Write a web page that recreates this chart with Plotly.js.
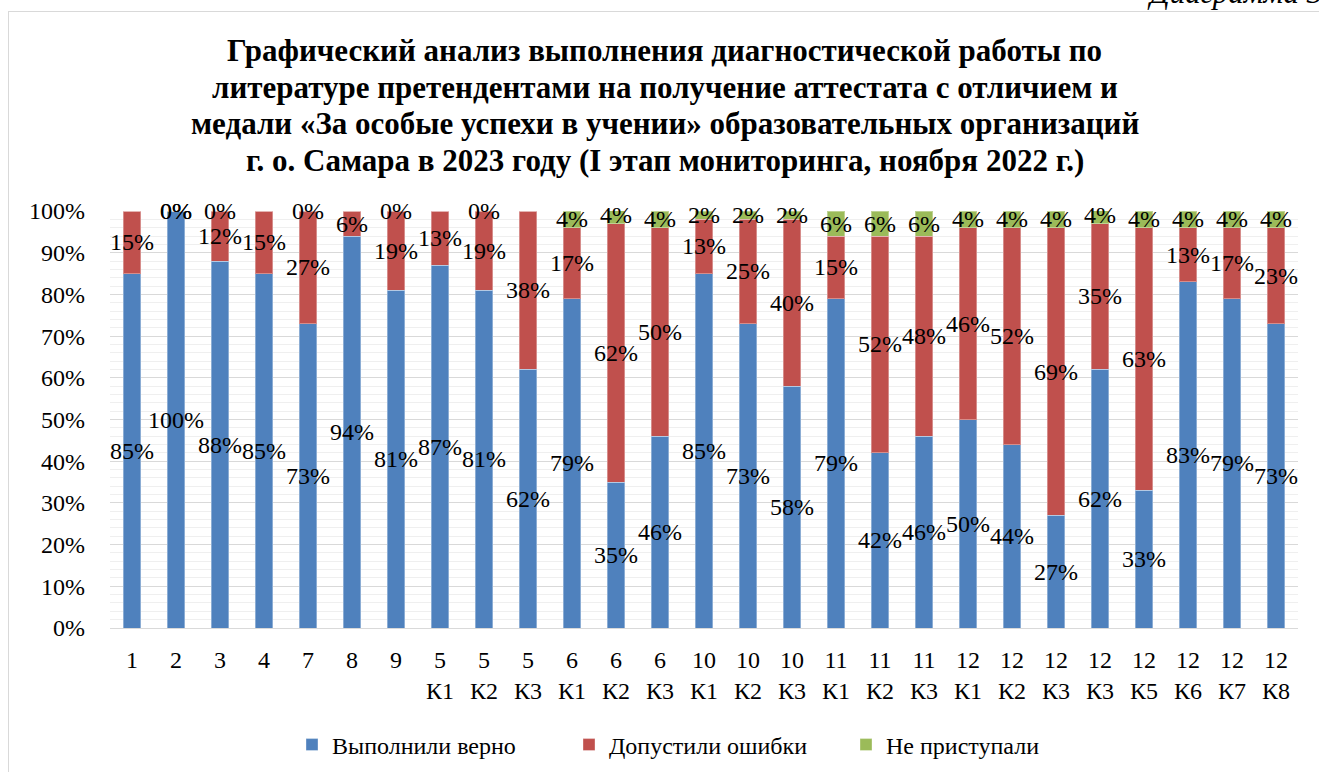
<!DOCTYPE html>
<html>
<head>
<meta charset="utf-8">
<script src="https://cdn.plot.ly/plotly-3.0.1.min.js"></script>
<style>
  html, body { margin: 0; padding: 0; background: #fff; overflow: hidden; }
  #chart { width: 1319px; height: 772px; }
  #frame { position: absolute; left: 8px; top: 11px; width: 2000px; height: 2000px;
           border: 1px solid #d9d9d9; pointer-events: none; }
</style>
</head>
<body>
<div id="chart"></div>
<div id="frame"></div>
<script>
const titleLines = [
  "Графический анализ выполнения диагностической работы по",
  "литературе претендентами на получение аттестата с отличием и",
  "медали «За особые успехи в учении» образовательных организаций",
  "г. о. Самара в 2023 году (I этап мониторинга, ноября 2022 г.)"
];
const tickLabels = ["1","2","3","4","7","8","9",
  "5<br>К1","5<br>К2","5<br>К3",
  "6<br>К1","6<br>К2","6<br>К3",
  "10<br>К1","10<br>К2","10<br>К3",
  "11<br>К1","11<br>К2","11<br>К3",
  "12<br>К1","12<br>К2","12<br>К3","12<br>К3","12<br>К5","12<br>К6","12<br>К7","12<br>К8"];
const correct = [85,100,88,85,73,94,81,87,81,62,79,35,46,85,73,58,79,42,46,50,44,27,62,33,83,79,73];
const errors  = [15,0,12,15,27,6,19,13,19,38,17,62,50,13,25,40,15,52,48,46,52,69,35,63,13,17,23];
const notStarted = [null,0,0,null,0,null,0,null,0,null,4,4,4,2,2,2,6,6,6,4,4,4,4,4,4,4,4];
const seriesNames = ["Выполнили верно","Допустили ошибки","Не приступали"];
const colors = ["#4f81bd","#c0504d","#9bbb59"];

const xIdx = tickLabels.map((_, i) => i);
const font = "Liberation Serif";

const traces = [correct, errors, notStarted].map((vals, k) => ({
  type: "bar",
  x: xIdx,
  y: vals.map(v => v === null ? 0 : v),
  name: seriesNames[k],
  marker: { color: colors[k], line: { color: "rgba(255,255,255,0.35)", width: 1 } },
  hoverinfo: "skip"
}));

const annotations = [];
xIdx.forEach(i => {
  let base = 0;
  [correct, errors, notStarted].forEach((vals, k) => {
    const v = vals[i];
    if (v === null) return;
    annotations.push({
      x: i, y: base + v / 2, xref: "x", yref: "y",
      text: v + "%", showarrow: false,
      font: { family: font, size: 24, color: "#000" }
    });
    base += v;
  });
});

// chart title, one annotation per line (tight line spacing as in the original)
const titleY = [1.386, 1.297, 1.209, 1.120];
titleLines.forEach((t, j) => {
  annotations.push({
    x: 0.467, y: titleY[j], xref: "paper", yref: "paper",
    xanchor: "center", yanchor: "middle",
    text: "<b>" + t + "</b>", showarrow: false,
    font: { family: font, size: 31, color: "#000" }
  });
});

annotations.push({
  x: 1.0, y: 1.525, xref: "paper", yref: "paper", xanchor: "left", yanchor: "middle",
  xshift: -153,
  text: "<i>Диаграмма 3</i>", showarrow: false,
  font: { family: font, size: 31, color: "#000" }
});

const layout = {
  width: 1319, height: 772,
  margin: { l: 110, r: 21, t: 211, b: 144 },
  paper_bgcolor: "#fff", plot_bgcolor: "#fff",
  font: { family: font, color: "#000" },
  barmode: "stack",
  bargap: 0.61,
  showlegend: true,
  xaxis: {
    range: [-0.5, 26.5],
    tickvals: xIdx, ticktext: tickLabels,
    tickfont: { family: font, size: 24, color: "#000" },
    showgrid: false, zeroline: false,
    showline: true, linecolor: "#d9d9d9", linewidth: 1,
    ticks: "", ticklabelstandoff: 10, fixedrange: true
  },
  yaxis: {
    range: [0, 100], dtick: 10, ticksuffix: "%",
    tickfont: { family: font, size: 24, color: "#000" },
    showgrid: true, gridcolor: "#d9d9d9", gridwidth: 1,
    minor: { dtick: 2, showgrid: true, gridcolor: "#efefef", gridwidth: 1 },
    zeroline: false, showline: false, ticks: "", ticklabelstandoff: 24, fixedrange: true
  },
  legend: {
    orientation: "h", x: 292 / 1319, xref: "container", xanchor: "left",
    y: 0.035, yref: "container", yanchor: "middle",
    font: { family: font, size: 24, color: "#000" },
    traceorder: "normal", itemwidth: 30, entrywidth: 232
  },
  annotations: annotations
};

Plotly.newPlot("chart", traces, layout, { displayModeBar: false, staticPlot: true });
</script>
</body>
</html>
